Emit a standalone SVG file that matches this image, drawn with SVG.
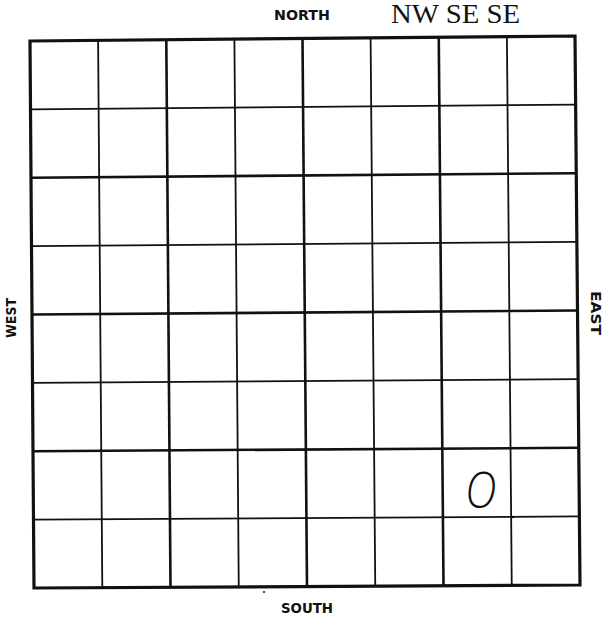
<svg xmlns="http://www.w3.org/2000/svg" width="611" height="619" viewBox="0 0 611 619">
<style>
.thin{stroke:#111;stroke-width:1.8;fill:none}
.thick{stroke:#111;stroke-width:2.6;fill:none}
.border{stroke:#111;stroke-width:3.2;fill:none}
.lbl{font-family:"Century Gothic","URW Gothic","DejaVu Sans","Liberation Sans",sans-serif;font-weight:bold;font-size:13.5px;fill:#111}
.tw{font-family:"Liberation Serif","Times New Roman",serif;font-size:27px;fill:#111}
</style>
<rect width="611" height="619" fill="#fff"/>
<g id="grid">
<g id="verticals">
<line class="thin" x1="98.1" y1="40.4" x2="102.3" y2="587.6"/>
<line class="thick" x1="166.3" y1="39.75" x2="170.5" y2="587.25"/>
<line class="thin" x1="234.4" y1="39.1" x2="238.75" y2="586.9"/>
<line class="thick" x1="302.5" y1="38.5" x2="307" y2="586.5"/>
<line class="thin" x1="370.6" y1="37.9" x2="375.25" y2="586.1"/>
<line class="thick" x1="438.75" y1="37.25" x2="443.5" y2="585.75"/>
<line class="thin" x1="506.9" y1="36.6" x2="511.75" y2="585.4"/>
</g>
<g id="horizontals">
<line class="thin" x1="30.5" y1="109.4" x2="575.6" y2="104.6"/>
<line class="thick" x1="31" y1="177.75" x2="576.25" y2="173.25"/>
<line class="thin" x1="31.5" y1="246.1" x2="576.9" y2="241.9"/>
<line class="thick" x1="32" y1="314.5" x2="577.5" y2="310.5"/>
<line class="thin" x1="32.5" y1="382.9" x2="578.1" y2="379.1"/>
<line class="thick" x1="33" y1="451.25" x2="578.75" y2="447.75"/>
<line class="thin" x1="33.5" y1="519.6" x2="579.4" y2="516.4"/>
</g>
<polygon id="border" class="border" points="30,41 575,36 580,585 34,588"/>
</g>
<g id="labels">
<text id="north" class="lbl" x="274" y="20" textLength="56" lengthAdjust="spacingAndGlyphs">NORTH</text>
<text id="south" class="lbl" x="281" y="613" textLength="52" lengthAdjust="spacingAndGlyphs">SOUTH</text>
<text id="west" class="lbl" transform="translate(16,338) rotate(-90)" textLength="40" lengthAdjust="spacingAndGlyphs">WEST</text>
<text id="east" class="lbl" transform="translate(591,291) rotate(90)" textLength="44" lengthAdjust="spacingAndGlyphs">EAST</text>
<text id="code" class="tw" x="391" y="23" textLength="129" lengthAdjust="spacingAndGlyphs">NW SE SE</text>
<text id="mark" x="0" y="0" transform="translate(465,508) scale(0.95,1.1)" font-family="Open Sans, Lato, sans-serif" font-weight="300" font-style="italic" font-size="46" fill="#111">O</text>
</g>
<circle cx="264" cy="592" r="1" fill="#111"/>
<circle cx="513" cy="517" r="1.2" fill="#111"/>
</svg>
